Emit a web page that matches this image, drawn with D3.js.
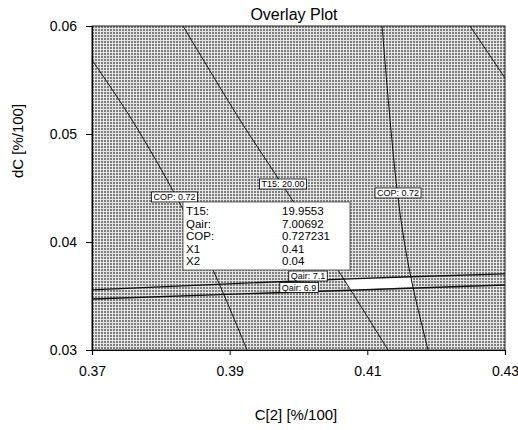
<!DOCTYPE html>
<html>
<head>
<meta charset="utf-8">
<script src="https://cdn.jsdelivr.net/npm/d3@7"></script>
<style>
  body { margin: 0; background: #fff; }
  text { font-family: Arial, "Liberation Sans", sans-serif; }
</style>
</head>
<body>
<div id="chart"></div>
<script>
// Axis ticks
const xTicks = [0.37, 0.39, 0.41, 0.43];
const yTicks = [0.03, 0.04, 0.05, 0.06];

// Contour lines, [C[2], dC] pairs
const copLeft = [[0.37, 0.05685], [0.37581, 0.0513], [0.3825, 0.04389], [0.38758, 0.03741], [0.39252, 0.03]];
const t15Line = [[0.38322, 0.06], [0.3915, 0.0513], [0.39644, 0.04648], [0.40647, 0.03667], [0.41301, 0.03]];
const copRight = [[0.41214, 0.06], [0.4133, 0.0513], [0.41432, 0.04481], [0.41533, 0.04018], [0.4165, 0.0362], [0.41882, 0.03]];
const copCorner = [[0.42492, 0.06], [0.43, 0.05518]];
const qair71 = [[0.37, 0.03556], [0.40647, 0.03657], [0.43, 0.03704]];
const qair69 = [[0.37, 0.03472], [0.43, 0.03602]];

// Un-shaded (feasible) patch between the Qair lines
const feasible = [[0.40662, 0.03657], [0.41635, 0.03676], [0.41664, 0.03583], [0.40749, 0.03556]];

// Contour labels
const labelText = ['COP: 0.72', 'T15: 20.00', 'COP: 0.72', 'Qair: 7.1', 'Qair: 6.9'];
const labelX = [0.38199, 0.39775, 0.41446, 0.40138, 0.40008];
const labelY = [0.04417, 0.04537, 0.04454, 0.03685, 0.03579];

// Tooltip contents
const tipNames = ['T15:', 'Qair:', 'COP:', 'X1', 'X2'];
const tipValues = ['19.9553', '7.00692', '0.727231', '0.41', '0.04'];

const width = 518;
const height = 430;
const margin = { top: 26, right: 13, bottom: 80, left: 92 };
const innerW = width - margin.left - margin.right;
const innerH = height - margin.top - margin.bottom;

const x = d3.scaleLinear().domain([0.37, 0.43]).range([0, innerW]);
const y = d3.scaleLinear().domain([0.03, 0.06]).range([innerH, 0]);

const svg = d3.select('#chart')
  .append('svg')
  .attr('width', width)
  .attr('height', height);

// crosshatch fill for the shaded area
const defs = svg.append('defs');
const pat = defs.append('pattern')
  .attr('id', 'hatch')
  .attr('width', 3)
  .attr('height', 3)
  .attr('patternUnits', 'userSpaceOnUse')
  .attr('x', margin.left)
  .attr('y', margin.top);
pat.append('rect').attr('width', 3).attr('height', 3).attr('fill', '#7e7e7e');
pat.append('rect').attr('width', 3).attr('height', 1).attr('fill', '#e4e4e4');
pat.append('rect').attr('width', 1).attr('height', 3).attr('fill', '#e4e4e4');

defs.append('clipPath')
  .attr('id', 'clip')
  .append('rect')
  .attr('width', innerW)
  .attr('height', innerH);

const g = svg.append('g')
  .attr('transform', `translate(${margin.left},${margin.top})`);

g.append('rect')
  .attr('width', innerW)
  .attr('height', innerH)
  .attr('fill', 'url(#hatch)');

const plot = g.append('g').attr('clip-path', 'url(#clip)');

plot.append('path')
  .datum(feasible)
  .attr('d', d3.line().x(d => x(d[0])).y(d => y(d[1])))
  .attr('fill', '#fff');

const line = d3.line()
  .x(d => x(d[0]))
  .y(d => y(d[1]))
  .curve(d3.curveCatmullRom);

[copLeft, t15Line, copRight, copCorner].forEach(pts => {
  plot.append('path')
    .datum(pts)
    .attr('d', line)
    .attr('fill', 'none')
    .attr('stroke', '#111')
    .attr('stroke-width', 1);
});

[qair71, qair69].forEach(pts => {
  plot.append('path')
    .datum(pts)
    .attr('d', line)
    .attr('fill', 'none')
    .attr('stroke', '#111')
    .attr('stroke-width', 1.3);
});

// little boxed labels on the contours
labelText.forEach((t, i) => {
  const lg = g.append('g')
    .attr('transform', `translate(${x(labelX[i])},${y(labelY[i])})`);
  const txt = lg.append('text')
    .attr('text-anchor', 'middle')
    .attr('dy', '0.35em')
    .attr('font-size', 9)
    .attr('fill', '#000')
    .text(t);
  const w = txt.node().getComputedTextLength() + 4;
  lg.insert('rect', 'text')
    .attr('x', -w / 2)
    .attr('y', -5)
    .attr('width', w)
    .attr('height', 10)
    .attr('fill', '#fff')
    .attr('stroke', '#000')
    .attr('stroke-width', 0.8);
});

// tooltip box
const tip = g.append('g').attr('transform', `translate(${183 - margin.left},${202 - margin.top})`);
tip.append('rect')
  .attr('width', 167)
  .attr('height', 68)
  .attr('fill', '#fff')
  .attr('stroke', '#444')
  .attr('stroke-width', 0.8);
tipNames.forEach((n, i) => {
  tip.append('text')
    .attr('x', 3)
    .attr('y', 13 + i * 12.5)
    .attr('font-size', 11.5)
    .text(n);
  tip.append('text')
    .attr('x', 99)
    .attr('y', 13 + i * 12.5)
    .attr('font-size', 11.5)
    .text(tipValues[i]);
});

// plot frame
g.append('rect')
  .attr('width', innerW)
  .attr('height', innerH)
  .attr('fill', 'none')
  .attr('stroke', '#222')
  .attr('stroke-width', 1);

// axes
const xAxis = g.append('g')
  .attr('transform', `translate(0,${innerH})`)
  .call(d3.axisBottom(x).tickValues(xTicks).tickFormat(d3.format('.2f')).tickSize(5).tickPadding(11));
const yAxis = g.append('g')
  .call(d3.axisLeft(y).tickValues(yTicks).tickFormat(d3.format('.2f')).tickSize(6).tickPadding(9));

[xAxis, yAxis].forEach(a => {
  a.select('.domain').attr('stroke', '#000').attr('stroke-width', 1.2);
  a.selectAll('.tick line').attr('stroke', '#000');
  a.selectAll('.tick text')
    .attr('font-family', 'Arial, "Liberation Sans", sans-serif')
    .attr('font-size', 14)
    .attr('fill', '#000');
});

// titles
svg.append('text')
  .attr('x', 294)
  .attr('y', 20)
  .attr('text-anchor', 'middle')
  .attr('font-size', 16)
  .text('Overlay Plot');

svg.append('text')
  .attr('x', 296)
  .attr('y', 420)
  .attr('text-anchor', 'middle')
  .attr('font-size', 15)
  .text('C[2] [%/100]');

svg.append('text')
  .attr('transform', 'translate(23,141) rotate(-90)')
  .attr('text-anchor', 'middle')
  .attr('font-size', 15)
  .text('dC [%/100]');
</script>
</body>
</html>
